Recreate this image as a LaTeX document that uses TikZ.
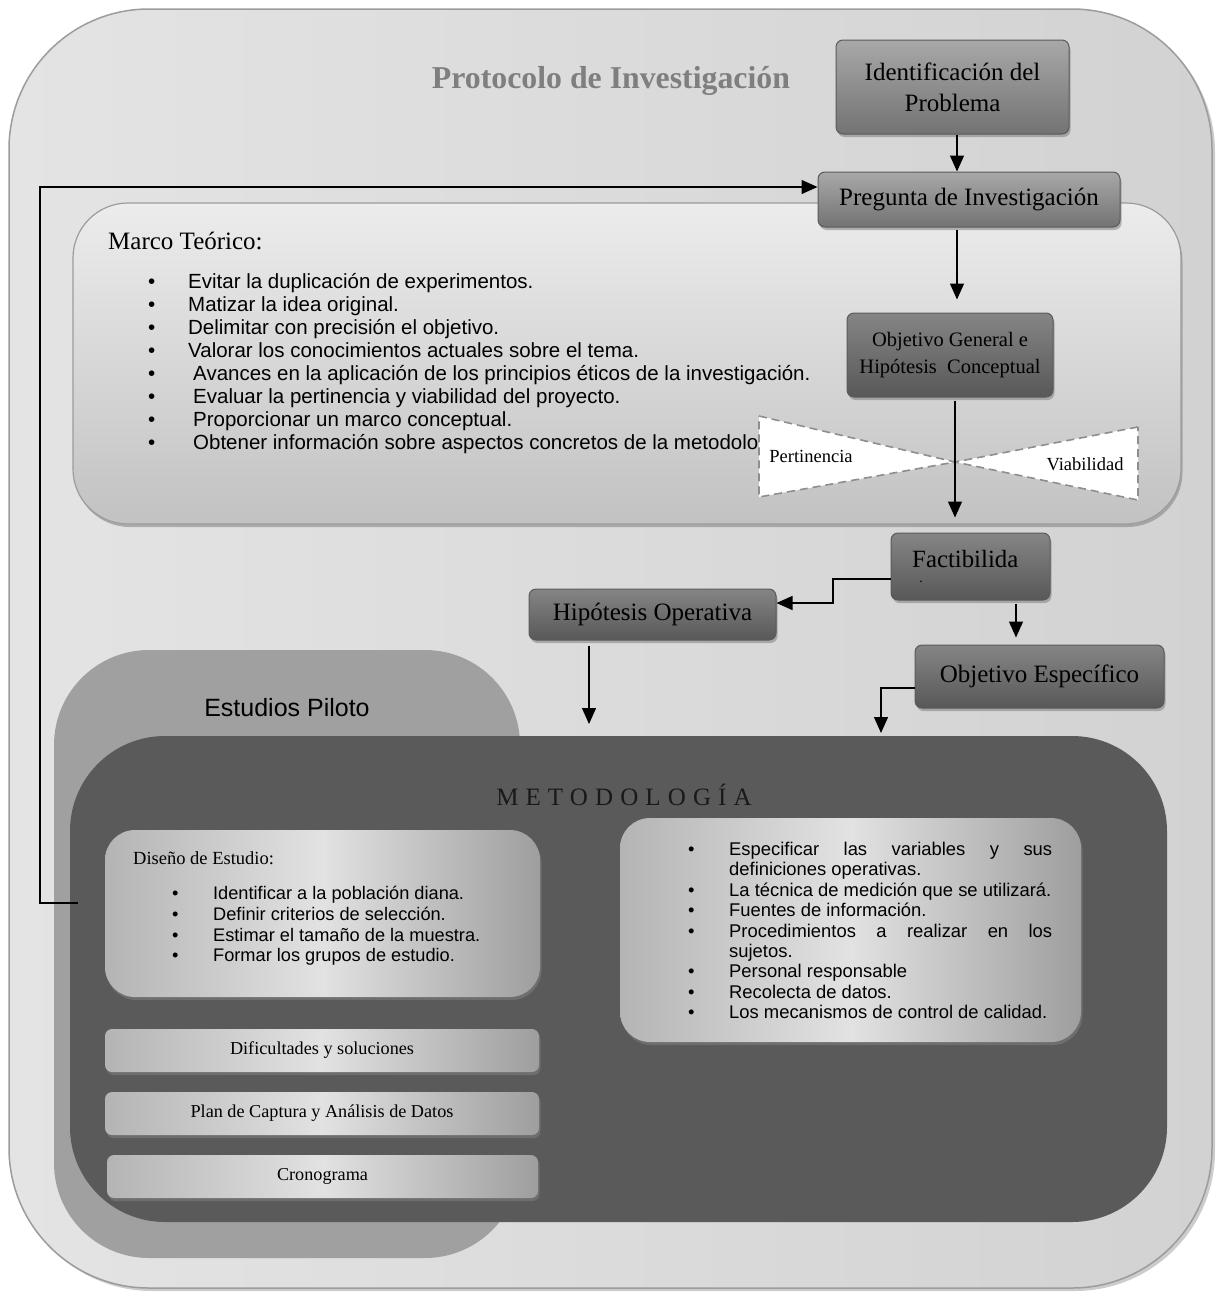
\documentclass[tikz,border=0pt]{standalone}
\usepackage{fontspec}
\setmainfont{Liberation Serif}
\setsansfont{Liberation Sans}
\usetikzlibrary{arrows.meta,shadows,calc}
\definecolor{outA}{HTML}{E4E4E4}
\definecolor{outB}{HTML}{D2D2D2}
\definecolor{outE}{HTML}{9C9C9C}
\definecolor{dkT}{HTML}{A8A8A8}
\definecolor{dkB}{HTML}{737373}
\definecolor{dk2T}{HTML}{858585}
\definecolor{dk2B}{HTML}{585858}
\definecolor{boxE}{HTML}{5A5A5A}
\definecolor{ltA}{HTML}{ECECEC}
\definecolor{ltB}{HTML}{C2C2C2}
\definecolor{ltL}{HTML}{B4B4B4}
\definecolor{ltM}{HTML}{E2E2E2}
\definecolor{ltR}{HTML}{9E9E9E}
\definecolor{pilot}{HTML}{A0A0A0}
\definecolor{metod}{HTML}{5A5A5A}
\definecolor{titl}{HTML}{7F7F7F}
\definecolor{dash}{HTML}{8E8E8E}
\tikzset{
  arr/.style={-{Triangle[length=16pt,width=14pt]}, line width=1.3pt, black},
  shad/.style={drop shadow={shadow xshift=1.5pt, shadow yshift=-3pt, opacity=.55}},
  dbox/.style={rounded corners=7pt, draw=boxE, line width=1pt, top color=dkT, bottom color=dkB,
    shad, align=center, inner sep=0pt, font=\fontsize{25}{31}\selectfont},
  dboxb/.style={dbox, top color=dk2T, bottom color=dk2B},
  lbox/.style={rounded corners=30pt, draw=none, left color=ltL, right color=ltR, middle color=ltM,
    shad, inner sep=0pt},
  bar/.style={rounded corners=7pt, draw=none, left color=ltL, right color=ltR, middle color=ltM,
    shad, inner sep=0pt, font=\fontsize{18.2}{21}\selectfont},
  txt/.style={inner sep=0pt, align=left, anchor=north west},
}
\begin{document}
\begin{tikzpicture}[x=1pt,y=-1pt]
\useasboundingbox (0,0) rectangle (1216,1293);

% outer container
\node[rounded corners=140pt, draw=outE, line width=1.5pt, left color=outA, right color=outB,
  drop shadow={shadow xshift=3pt, shadow yshift=-3pt, opacity=.4},
  minimum width=1203pt, minimum height=1279pt, inner sep=0pt] (outer) at (610.5,648.5) {};

\node[font=\bfseries\fontsize{31.8}{36}\selectfont, text=titl] (title) at (611,81) {Protocolo de Investigación};

% Marco teorico container
\node[rounded corners=55pt, draw=outE, line width=1.2pt, top color=ltA, bottom color=ltB, shad,
  minimum width=1108pt, minimum height=321pt, inner sep=0pt] (marco) at (627,363.5) {};
\node[txt, font=\fontsize{25}{28}\selectfont] (marcoT) at (108,232) {Marco Teórico:};
\node[txt, font=\sffamily\fontsize{20.5}{23}\selectfont] (marcoL) at (148,273) {%
\makebox[40pt][l]{•}Evitar la duplicación de experimentos.\\
\makebox[40pt][l]{•}Matizar la idea original.\\
\makebox[40pt][l]{•}Delimitar con precisión el objetivo.\\
\makebox[40pt][l]{•}Valorar los conocimientos actuales sobre el tema.\\
\makebox[45pt][l]{•}Avances en la aplicación de los principios éticos de la investigación.\\
\makebox[45pt][l]{•}Evaluar la pertinencia y viabilidad del proyecto.\\
\makebox[45pt][l]{•}Proporcionar un marco conceptual.\\
\makebox[45pt][l]{•}Obtener información sobre aspectos concretos de la metodolo};

% bow tie
\draw[dash pattern=on 8pt off 5pt, draw=dash, line width=1.6pt, fill=white]
  (759,416) -- (955,462) -- (759,497) -- cycle;
\draw[dash pattern=on 8pt off 5pt, draw=dash, line width=1.6pt, fill=white]
  (1138,427) -- (955,462) -- (1138,500) -- cycle;
\node[font=\fontsize{18.5}{20}\selectfont] (pert) at (811,456) {Pertinencia};
\node[font=\fontsize{18.5}{20}\selectfont] (viab) at (1085,464) {Viabilidad};

% top boxes
\node[dbox, minimum width=233pt, minimum height=94pt] (ident) at (952.5,87) {Identificación del\\Problema};
\node[dbox, minimum width=302pt, minimum height=55pt] (preg) at (969,199.5) {Pregunta de Investigación};
\node[dboxb, minimum width=206pt, minimum height=84pt, font=\fontsize{20.5}{27}\selectfont] (objgen) at (950,355) {Objetivo General e\\Hipótesis\ \ Conceptual};
\node[dboxb, minimum width=159pt, minimum height=67pt] (factib) at (970.5,566.5) {};
\node[txt, anchor=west, font=\fontsize{24.8}{28}\selectfont] (factT) at (912,559) {Factibilida};
\node[inner sep=0pt, font=\fontsize{14}{14}\selectfont] (factD) at (921,582) {.};
\node[dboxb, minimum width=247pt, minimum height=51pt] (hipop) at (652.5,614.5) {Hipótesis Operativa};
\node[dboxb, minimum width=249pt, minimum height=63pt] (objesp) at (1039.5,676.5) {Objetivo Específico};

% Estudios piloto / Metodologia
\node[rounded corners=95pt, fill=pilot, minimum width=466pt, minimum height=608pt, inner sep=0pt] (piloto) at (287,954) {};
\node[font=\sffamily\fontsize{25}{28}\selectfont] (pilotT) at (287,708) {Estudios Piloto};
\node[rounded corners=95pt, fill=metod, minimum width=1097pt, minimum height=486pt, inner sep=0pt] (metod) at (618.5,979) {};
\node[font=\addfontfeature{LetterSpace=28.5}\fontsize{25}{28}\selectfont, text=black!90] (metodT) at (624,795) {METODOLOGÍA};

% Diseno de estudio
\node[lbox, minimum width=435pt, minimum height=167pt] (dis) at (322.5,913.5) {};
\node[txt, font=\fontsize{18.5}{22}\selectfont] (disT) at (133,851) {Diseño de Estudio:};
\node[txt, font=\sffamily\fontsize{18.2}{20.7}\selectfont] (disL) at (172,886) {%
\makebox[41pt][l]{•}Identificar a la población diana.\\
\makebox[41pt][l]{•}Definir criterios de selección.\\
\makebox[41pt][l]{•}Estimar el tamaño de la muestra.\\
\makebox[41pt][l]{•}Formar los grupos de estudio.};

% right list
\node[lbox, minimum width=461pt, minimum height=224pt] (vars) at (850.5,930) {};
\node[txt, font=\sffamily\fontsize{18.4}{20.4}\selectfont] (varsL) at (688,842) {%
\makebox[41pt][l]{•}\makebox[323pt][s]{Especificar\hfill las\hfill variables\hfill y\hfill sus}\\
\hspace*{41pt}definiciones operativas.\\
\makebox[41pt][l]{•}La técnica de medición que se utilizará.\\
\makebox[41pt][l]{•}Fuentes de información.\\
\makebox[41pt][l]{•}\makebox[323pt][s]{Procedimientos\hfill a\hfill realizar\hfill en\hfill los}\\
\hspace*{41pt}sujetos.\\
\makebox[41pt][l]{•}Personal responsable\\
\makebox[41pt][l]{•}Recolecta de datos.\\
\makebox[41pt][l]{•}Los mecanismos de control de calidad.};

% bottom bars
\node[bar, minimum width=434pt, minimum height=43pt] (dific) at (322,1050.5) {Dificultades y soluciones};
\node[bar, minimum width=434pt, minimum height=43pt] (plan) at (322,1113.5) {Plan de Captura y Análisis de Datos};
\node[bar, minimum width=431pt, minimum height=43pt] (crono) at (322.5,1176.5) {Cronograma};

% connectors
\coordinate (px) at (957,0);
\coordinate (ox) at (955,0);
\coordinate (fx) at (1016,0);
\coordinate (fk1) at (833,579);
\coordinate (fk2) at (833,603);
\coordinate (hx) at (589,724);
\coordinate (oe) at (881,733);
\coordinate (fbA) at (78,903);
\coordinate (fbB) at (40,187);

\draw[arr] (ident.south -| px) -- (preg.north -| px);
\draw[arr, shorten <=2pt, shorten >=13pt] (preg.south -| px) -- (objgen.north -| px);
\draw[arr, shorten <=3pt, shorten >=15pt] (objgen.south -| ox) -- (factib.north -| ox);
\draw[arr] ([yshift=-12.5pt]factib.west) -- (fk1) -- (fk2) -- (fk2 -| hipop.east);
\draw[arr, shorten <=3pt, shorten >=7pt] (factib.south -| fx) -- (objesp.north -| fx);
\draw[arr, shorten <=5pt] (hipop.south -| hx) -- (hx);
\draw[arr] ([yshift=-11.5pt]objesp.west) -| (oe);
\draw[arr] (fbA) -| (fbB) -- (fbB -| preg.west);
\end{tikzpicture}
\end{document}
